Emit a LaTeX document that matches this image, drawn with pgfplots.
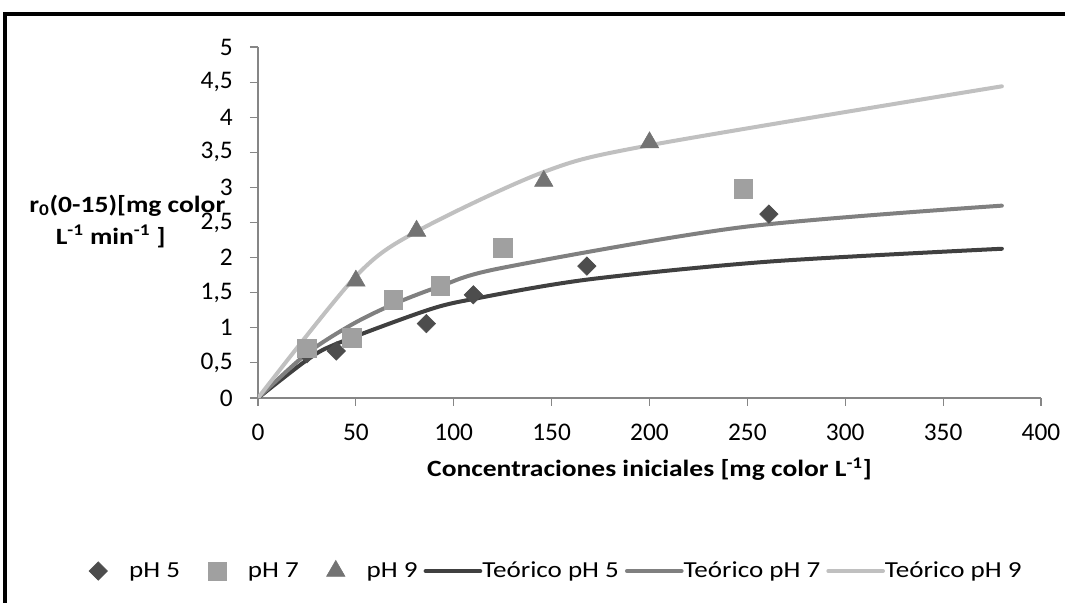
\documentclass[border=0pt]{standalone}
\usepackage{fontspec}
\setmainfont{Carlito}[FakeStretch=1.18]
\newfontfamily\tickfont{Carlito}
\usepackage{pgfplots}
\pgfplotsset{compat=1.18}
\definecolor{cph5}{HTML}{4D4D4D}
\definecolor{cph7}{HTML}{A0A0A0}
\definecolor{cph9}{HTML}{737373}
\definecolor{lph5}{HTML}{404040}
\definecolor{lph7}{HTML}{808080}
\definecolor{lph9}{HTML}{C0C0C0}
\definecolor{axgray}{HTML}{868686}
\pgfplotsset{
  markleg/.style={legend image code/.code={\path (-23pt,0pt) (23pt,0pt); \draw[##1] plot coordinates {(0pt,0pt)};}},
  lineleg/.style={legend image code/.code={\draw[##1] (0pt,0pt) -- (41pt,0pt);}},
}
\begin{document}
\begin{tikzpicture}
\path[use as bounding box] (0,0) rectangle (798.75pt,452.25pt);
\draw[line width=3pt] (3.75pt,0pt) -- (3.75pt,441.75pt) -- (800pt,441.75pt);
\begin{axis}[
  at={(193.5pt,153.75pt)}, anchor=south west,
  scale only axis, width=587.25pt, height=263.25pt,
  xmin=0, xmax=400, ymin=0, ymax=5,
  axis x line=bottom, axis y line=left,
  axis line style={-, draw=axgray, line width=0.9pt},
  tick style={draw=axgray, line width=0.9pt},
  major tick length=6pt, tick align=outside,
  xtick={0,50,...,400}, ytick={0,0.5,1,1.5,2,2.5,3,3.5,4,4.5,5},
  /pgf/number format/assume math mode=true,
  /pgf/number format/use comma,
  ticklabel style={font=\tickfont\fontsize{19}{22}\selectfont},
  xticklabel style={inner sep=0pt, anchor=north, yshift=-13.5pt},
  yticklabel style={inner sep=0pt, anchor=east, xshift=-12.75pt},
  xlabel={\textbf{Concentraciones iniciales [mg color L\textsuperscript{-1}]}},
  every axis x label/.style={at={(axis description cs:0.5,0)}, anchor=center, yshift=-53.25pt, font=\fontsize{17.5}{20}\selectfont},
  ylabel={\textbf{r\textsubscript{0}(0-15)[mg color}\\\textbf{L\textsuperscript{-1} min\textsuperscript{-1} ]}\hspace*{25pt}},
  every axis y label/.style={at={(axis description cs:0,0.5)}, anchor=center, xshift=-98pt, yshift=1pt, align=center, font=\fontsize{17.5}{24}\selectfont},
  legend columns=6,
  legend style={at={(axis description cs:-0.2439,-0.493)}, anchor=west, draw=none, fill=none, inner sep=0pt,
    font=\fontsize{17.2}{20}\selectfont,
    nodes={inner xsep=0pt, inner ysep=2pt},
    /tikz/every odd column/.style={column sep=0pt},
    /tikz/every even column/.style={column sep=4.5pt}},
]
\addplot[only marks, mark=square*, mark size=4.9pt, mark options={rotate=45, fill=cph5, draw=cph5}, markleg]
  coordinates {(25,0.63) (40,0.67) (86,1.06) (110,1.47) (168,1.88) (261,2.62)};
\addlegendentry{pH 5}
\addplot[only marks, mark=square*, mark size=6.9pt, mark options={fill=cph7, draw=cph7}, markleg]
  coordinates {(25,0.71) (48,0.86) (69,1.40) (93,1.60) (125,2.14) (248,2.98)};
\addlegendentry{pH 7}
\addplot[only marks, mark=triangle*, mark size=8pt, mark options={fill=cph9, draw=cph9}, markleg]
  coordinates {(50,1.67) (81,2.38) (146,3.09) (200,3.64)};
\addlegendentry{pH 9}
\addplot[smooth, tension=0.5, no marks, draw=lph5, line width=3pt, line cap=round, lineleg]
  coordinates {(0,0) (25,0.541) (40,0.771) (86,1.246) (110,1.41) (168,1.686) (261,1.943) (380,2.126)};
\addlegendentry{Teórico pH 5}
\addplot[smooth, tension=0.5, no marks, draw=lph7, line width=3pt, line cap=round, lineleg]
  coordinates {(0,0) (25,0.634) (48,1.047) (69,1.334) (93,1.591) (125,1.855) (248,2.436) (380,2.74)};
\addlegendentry{Teórico pH 7}
\addplot[smooth, tension=0.5, no marks, draw=lph9, line width=3pt, line cap=round, lineleg]
  coordinates {(0,0) (50,1.734) (81,2.371) (146,3.22) (200,3.6) (380,4.44)};
\addlegendentry{Teórico pH 9}
\end{axis}
\end{tikzpicture}
\end{document}
